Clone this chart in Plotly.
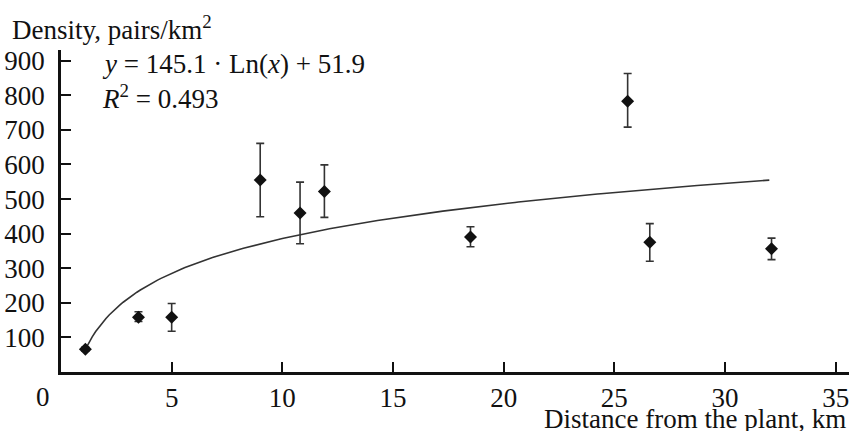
import numpy as np
import plotly.graph_objects as go

# Data
distance_km = [1.1, 3.5, 5.0, 9.0, 10.8, 11.9, 18.5, 25.6, 26.6, 32.1]
density = [66, 158, 158, 555, 460, 522, 390, 783, 375, 356]
err_up = [6, 16, 40, 106, 89, 77, 30, 80, 54, 31]
err_down = [6, 12, 40, 106, 89, 75, 28, 75, 55, 31]

# Fitted trend, as printed on the chart: y = a*ln(x) + b
fit_a = 145.1
fit_b = 51.9
fit_x = np.linspace(1.1, 32.0, 200)
fit_y = fit_a * np.log(fit_x) + fit_b

x_ticks = [5, 10, 15, 20, 25, 30, 35]
y_ticks = [100, 200, 300, 400, 500, 600, 700, 800, 900]

FONT = "Liberation Serif, Times New Roman, serif"
INK = "#111111"
FS = 27

fig = go.Figure()
fig.add_trace(go.Scatter(x=fit_x, y=fit_y, mode="lines",
                         line=dict(color="#333333", width=1.6),
                         hoverinfo="skip", showlegend=False))
fig.add_trace(go.Scatter(
    x=distance_km, y=density, mode="markers",
    marker=dict(symbol="diamond", size=10, color=INK),
    error_y=dict(type="data", symmetric=False, array=err_up, arrayminus=err_down,
                 color="#333333", thickness=1.6, width=4),
    showlegend=False))

fig.update_layout(
    width=849, height=431,
    margin=dict(l=61, r=0, t=50, b=59, autoexpand=False),
    paper_bgcolor="white", plot_bgcolor="white",
    font=dict(family=FONT, size=FS, color=INK),
    xaxis=dict(range=[0, 35.6], tickvals=x_ticks, ticks="inside", ticklen=10,
               tickwidth=2, tickcolor=INK, showline=True, linecolor=INK,
               linewidth=2.5, showgrid=False, zeroline=False, automargin=False,
               ticklabelstandoff=0, ticklabeloverflow="allow", tickfont=dict(size=FS)),
    yaxis=dict(range=[0, 931], tickvals=y_ticks, ticks="inside", ticklen=10,
               tickwidth=2, tickcolor=INK, showline=True, linecolor=INK,
               linewidth=2.5, showgrid=False, zeroline=False, automargin=False,
               ticklabelstandoff=8, ticklabeloverflow="allow", tickfont=dict(size=FS)),
    annotations=[
        dict(text="Density, pairs/km<sup>2</sup>", xref="paper", yref="paper",
             x=-0.0647, y=1.068, xanchor="left", yanchor="middle",
             showarrow=False, font=dict(size=FS)),
        dict(text="<i>y</i> = 145.1 · Ln(<i>x</i>) + 51.9", xref="paper", yref="paper",
             x=0.05, y=0.957, xanchor="left", yanchor="middle",
             showarrow=False, font=dict(size=FS)),
        dict(text="<i>R</i><sup>2</sup> = 0.493", xref="paper", yref="paper",
             x=0.05, y=0.854, xanchor="left", yanchor="middle",
             showarrow=False, font=dict(size=FS)),
        dict(text="0", xref="paper", yref="paper",
             x=-0.0228, y=-0.078, xanchor="center", yanchor="middle",
             showarrow=False, font=dict(size=FS)),
        dict(text="Distance from the plant, km", xref="paper", yref="paper",
             x=0.999, y=-0.146, xanchor="right", yanchor="middle",
             showarrow=False, font=dict(size=FS)),
    ],
)

fig.write_html("out.html", config={"displayModeBar": False},
               post_script="document.body.style.margin='0';document.body.style.overflow='hidden';")
